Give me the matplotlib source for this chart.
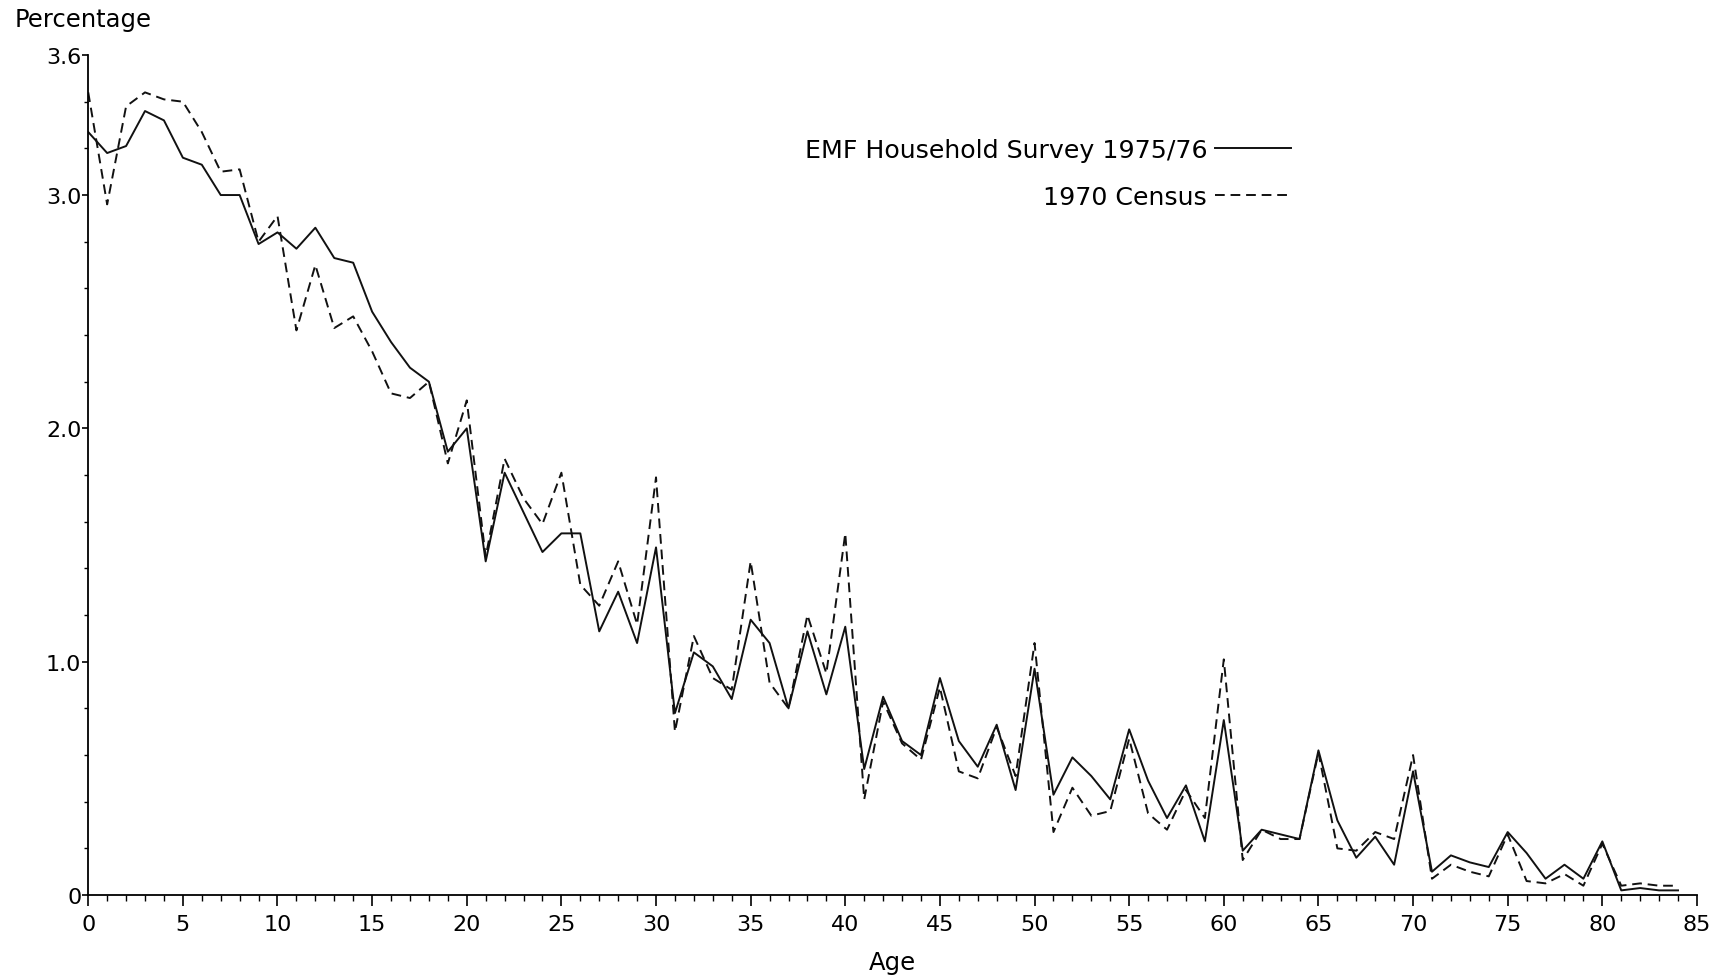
import matplotlib.pyplot as plt
from matplotlib.ticker import MultipleLocator, FixedLocator

ages = list(range(85))

# EMF Household Survey 1975/76, percentage of population by single year of age
emf_survey = [
    3.27, 3.18, 3.21, 3.36, 3.32, 3.16, 3.13, 3.00, 3.00, 2.79,
    2.84, 2.77, 2.86, 2.73, 2.71, 2.50, 2.37, 2.26, 2.20, 1.90,
    2.00, 1.43, 1.81, 1.64, 1.47, 1.55, 1.55, 1.13, 1.30, 1.08,
    1.49, 0.78, 1.04, 0.98, 0.84, 1.18, 1.08, 0.80, 1.13, 0.86,
    1.15, 0.54, 0.85, 0.66, 0.60, 0.93, 0.66, 0.55, 0.73, 0.45,
    0.97, 0.43, 0.59, 0.51, 0.41, 0.71, 0.49, 0.33, 0.47, 0.23,
    0.75, 0.19, 0.28, 0.26, 0.24, 0.62, 0.32, 0.16, 0.25, 0.13,
    0.53, 0.10, 0.17, 0.14, 0.12, 0.27, 0.18, 0.07, 0.13, 0.07,
    0.23, 0.02, 0.03, 0.02, 0.02,
]

# 1970 Census
census_1970 = [
    3.44, 2.96, 3.38, 3.44, 3.41, 3.40, 3.27, 3.10, 3.11, 2.80,
    2.91, 2.42, 2.70, 2.43, 2.48, 2.33, 2.15, 2.13, 2.20, 1.85,
    2.12, 1.45, 1.87, 1.70, 1.59, 1.81, 1.33, 1.24, 1.43, 1.16,
    1.79, 0.70, 1.11, 0.93, 0.88, 1.43, 0.91, 0.80, 1.20, 0.95,
    1.55, 0.41, 0.83, 0.65, 0.58, 0.89, 0.53, 0.50, 0.72, 0.51,
    1.08, 0.27, 0.46, 0.34, 0.36, 0.67, 0.35, 0.28, 0.45, 0.33,
    1.01, 0.15, 0.28, 0.24, 0.24, 0.61, 0.20, 0.19, 0.27, 0.24,
    0.60, 0.07, 0.13, 0.10, 0.08, 0.26, 0.06, 0.05, 0.09, 0.04,
    0.22, 0.04, 0.05, 0.04, 0.04,
]

y_ticks = [0, 1.0, 2.0, 3.0, 3.6]
y_tick_labels = ['0', '1.0', '2.0', '3.0', '3.6']

plt.rcParams['font.family'] = ['DejaVu Sans']
plt.rcParams['font.size'] = 16

fig = plt.figure(figsize=(17.2, 9.78), dpi=100)
ax = fig.add_axes([0.0513, 0.0838, 0.9353, 0.8589])

ax.plot(ages, emf_survey, color='#111111', linewidth=1.4, label='EMF Household Survey 1975/76')
ax.plot(ages, census_1970, color='#111111', linewidth=1.4, linestyle=(0, (5, 3)), label='1970 Census')

ax.set_xlim(0, 85)
ax.set_ylim(0, 3.6)

ax.xaxis.set_major_locator(MultipleLocator(5))
ax.xaxis.set_minor_locator(MultipleLocator(1))
ax.yaxis.set_major_locator(FixedLocator(y_ticks))
ax.yaxis.set_minor_locator(MultipleLocator(0.2))
ax.set_yticklabels(y_tick_labels)

ax.spines['top'].set_visible(False)
ax.spines['right'].set_visible(False)
for side in ('left', 'bottom'):
    ax.spines[side].set_linewidth(1.3)

ax.tick_params(axis='x', which='major', direction='out', length=8, width=1.2, pad=6)
ax.tick_params(axis='x', which='minor', direction='out', length=4, width=1.0)
ax.tick_params(axis='y', which='major', direction='out', length=4, width=1.2, pad=1)
ax.tick_params(axis='y', which='minor', direction='out', length=3, width=1.0)

ax.set_xlabel('Age', fontsize=17.5, va='center')
ax.xaxis.set_label_coords(0.5, -0.0798)
ax.set_ylabel('Percentage', fontsize=17.5, rotation=0, ha='left', va='center')
ax.yaxis.set_label_coords(-0.0456, 1.043)

ax.legend(loc='upper right', bbox_to_anchor=(0.7477, 0.9015), frameon=False,
          markerfirst=False, handlelength=3.0, handletextpad=0.32,
          labelspacing=0.93, borderpad=0, borderaxespad=0, fontsize=18.2)

plt.savefig('out.png', dpi=100)
